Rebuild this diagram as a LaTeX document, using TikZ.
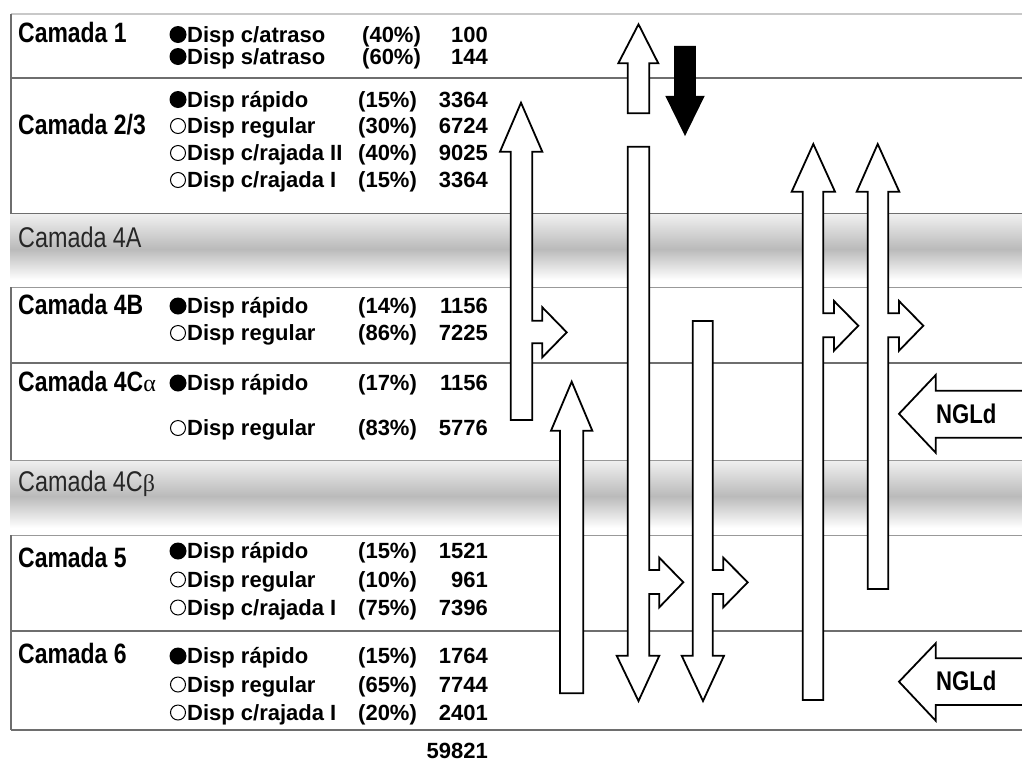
\documentclass[tikz,border=0pt]{standalone}
\usepackage{fontspec}
\setmainfont{Liberation Sans}
\newfontfamily\narrowfont[FakeStretch=0.82]{Liberation Sans}
\newfontfamily\greekfont{Liberation Serif}
\definecolor{linegray}{RGB}{110,110,110}
\definecolor{lightline}{RGB}{200,200,200}
\definecolor{bandlight}{RGB}{240,240,240}
\definecolor{banddark}{RGB}{186,186,186}
\begin{document}
\begin{tikzpicture}[x=1pt,y=-1pt,
  rowline/.style={draw=linegray,line width=1.3pt},
  camlabel/.style={anchor=base west,inner sep=0pt,font=\narrowfont\bfseries\fontsize{28}{28}\selectfont},
  bandlabel/.style={anchor=base west,inner sep=0pt,font=\narrowfont\fontsize{28.5}{28}\selectfont,text=black!85},
  itemtxt/.style={anchor=base west,inner sep=0pt,font=\bfseries\fontsize{22}{22}\selectfont},
  numtxt/.style={anchor=base east,inner sep=0pt,font=\bfseries\fontsize{22}{22}\selectfont},
  fbullet/.style={circle,fill=black,inner sep=0pt,minimum size=17pt},
  obullet/.style={circle,draw=black,fill=white,line width=1pt,inner sep=0pt,minimum size=15pt},
  bigarrow/.style={draw=black,fill=white,line width=1.8pt,line join=miter},
  ngl/.style={anchor=base west,inner sep=0pt,font=\narrowfont\bfseries\fontsize{27}{27}\selectfont}]
\useasboundingbox (0,0) rectangle (1022,761);
\fill[white] (0,0) rectangle (1022,761);

% gray bands
\shade[top color=bandlight,bottom color=banddark] (10,214) rectangle (1022,249);
\shade[top color=banddark,bottom color=white] (10,249) rectangle (1022,280);
\fill[white] (10,280) rectangle (1022,287);
\shade[top color=bandlight,bottom color=banddark] (10,460) rectangle (1022,496);
\shade[top color=banddark,bottom color=white] (10,496) rectangle (1022,528);
\fill[white] (10,528) rectangle (1022,535);

% row lines
\draw[draw=lightline,line width=1.3pt] (11,14) -- (1022,14);
\draw[rowline] (11,78) -- (1022,78);
\draw[rowline] (11,213.5) -- (1022,213.5);
\draw[draw=linegray!70,line width=1pt] (10,287) -- (1022,287);
\draw[rowline] (11,363) -- (1022,363);
\draw[draw=linegray!70,line width=1pt] (10,460) -- (1022,460);
\draw[draw=linegray!70,line width=1pt] (10,535) -- (1022,535);
\draw[rowline] (11,631) -- (1022,631);
\draw[rowline] (11,730) -- (1022,730);
\draw[rowline] (11,14) -- (11,213.5);
\draw[rowline] (11,287) -- (11,460);
\draw[rowline] (11,535) -- (11,730);

% layer labels
\node[camlabel] (c1) at (18,42.5) {Camada 1};
\node[camlabel] (c23) at (18,134) {Camada 2/3};
\node[bandlabel] (c4a) at (18,247.5) {Camada 4A};
\node[camlabel] (c4b) at (18,314) {Camada 4B};
\node[camlabel] (c4ca) at (18,391) {Camada 4C{\greekfont\mdseries\fontsize{24}{24}\selectfont α}};
\node[bandlabel] (c4cb) at (18,491) {Camada 4C{\greekfont\fontsize{24}{24}\selectfont β}};
\node[camlabel] (c5) at (18,567) {Camada 5};
\node[camlabel] (c6) at (18,663) {Camada 6};

% items: bullet, text, percent, number
\newcommand{\itemrow}[7]{%
  \node[#2] (#1b) at (178,#3-7.5) {};
  \node[itemtxt] (#1t) at (187,#3) {#4};
  \node[itemtxt] (#1p) at (#5,#3) {#6};
  \node[numtxt] (#1n) at (488,#3) {#7};}
\itemrow{a1}{fbullet}{42}{Disp c/atraso}{362}{(40\%)}{100}
\itemrow{a2}{fbullet}{64}{Disp s/atraso}{362}{(60\%)}{144}
\itemrow{b1}{fbullet}{107}{Disp rápido}{358}{(15\%)}{3364}
\itemrow{b2}{obullet}{133.5}{Disp regular}{358}{(30\%)}{6724}
\itemrow{b3}{obullet}{160.5}{Disp c/rajada II}{358}{(40\%)}{9025}
\itemrow{b4}{obullet}{187.5}{Disp c/rajada I}{358}{(15\%)}{3364}
\itemrow{d1}{fbullet}{313.5}{Disp rápido}{358}{(14\%)}{1156}
\itemrow{d2}{obullet}{340.5}{Disp regular}{358}{(86\%)}{7225}
\itemrow{e1}{fbullet}{390.5}{Disp rápido}{358}{(17\%)}{1156}
\itemrow{e2}{obullet}{435.5}{Disp regular}{358}{(83\%)}{5776}
\itemrow{f1}{fbullet}{558.5}{Disp rápido}{358}{(15\%)}{1521}
\itemrow{f2}{obullet}{587}{Disp regular}{358}{(10\%)}{961}
\itemrow{f3}{obullet}{615}{Disp c/rajada I}{358}{(75\%)}{7396}
\itemrow{g1}{fbullet}{663.5}{Disp rápido}{358}{(15\%)}{1764}
\itemrow{g2}{obullet}{692}{Disp regular}{358}{(65\%)}{7744}
\itemrow{g3}{obullet}{720}{Disp c/rajada I}{358}{(20\%)}{2401}
\node[numtxt] (total) at (488,758) {59821};

% arrows
% A: up with right branch
\draw[bigarrow] (510.7,420) -- (510.7,151.7) -- (500,151.7) -- (521,102.7) -- (542.3,151.7) -- (532.3,151.7)
  -- (532.3,320.7) -- (542.3,320.7) -- (542.3,307.3) -- (566.7,332.3) -- (542.3,357.3) -- (542.3,343.3)
  -- (532.3,343.3) -- (532.3,420) -- cycle;
% B: short up
\draw[bigarrow] (627.7,113.3) -- (627.7,63.3) -- (618.3,63.3) -- (638.5,24.3) -- (658.3,63.3) -- (649.3,63.3) -- (649.3,113.3) -- cycle;
% C: black down
\draw[bigarrow,fill=black] (675,46.7) -- (695,46.7) -- (695,96.7) -- (703.3,96.7) -- (685,134) -- (666.7,96.7) -- (675,96.7) -- cycle;
% D: long down with branch
\draw[bigarrow] (627.7,146.7) -- (649.3,146.7) -- (649.3,570) -- (659.3,570) -- (659.3,557.7) -- (683.3,582.3)
  -- (659.3,607.3) -- (659.3,594) -- (649.3,594) -- (649.3,655.7) -- (659.3,655.7) -- (638.5,701)
  -- (616.7,655.7) -- (627.7,655.7) -- cycle;
% E: down with branch
\draw[bigarrow] (692.7,321) -- (712.7,321) -- (712.7,570) -- (723.3,570) -- (723.3,557.7) -- (747.7,582.3)
  -- (723.3,607.3) -- (723.3,594) -- (712.7,594) -- (712.7,655.7) -- (724,655.7) -- (703,701)
  -- (681.7,655.7) -- (692.7,655.7) -- cycle;
% F: up from layer 6
\draw[bigarrow] (560,693.3) -- (560,430.7) -- (551,430.7) -- (571.7,381.7) -- (592.3,430.7) -- (583.3,430.7) -- (583.3,693.3) -- cycle;
% G: long up with branch
\draw[bigarrow] (802.7,700) -- (802.7,191.7) -- (791.7,191.7) -- (813.3,144) -- (835,191.7) -- (823.3,191.7)
  -- (823.3,313.3) -- (834,313.3) -- (834,301) -- (858.3,325.7) -- (834,350.7) -- (834,337.3)
  -- (823.3,337.3) -- (823.3,700) -- cycle;
% H: up with branch
\draw[bigarrow] (867.7,589) -- (867.7,191.7) -- (856.7,191.7) -- (877.7,144) -- (899.3,191.7) -- (888.3,191.7)
  -- (888.3,313.3) -- (899,313.3) -- (899,301) -- (923.3,325.7) -- (899,350.7) -- (899,337.3)
  -- (888.3,337.3) -- (888.3,589) -- cycle;
% NGLd arrows
\fill[white] (1022,390.7) -- (935.7,390.7) -- (935.7,375) -- (899,413.8) -- (935.7,452.7) -- (935.7,437.7) -- (1022,437.7) -- cycle;
\draw[line width=1.8pt,line join=miter] (1022,390.7) -- (935.7,390.7) -- (935.7,375) -- (899,413.8) -- (935.7,452.7) -- (935.7,437.7) -- (1022,437.7);
\node[ngl] (ngl1) at (936,423.3) {NGLd};
\fill[white] (1022,658.3) -- (935.7,658.3) -- (935.7,643.3) -- (899,681.7) -- (935.7,720.7) -- (935.7,705) -- (1022,705) -- cycle;
\draw[line width=1.8pt,line join=miter] (1022,658.3) -- (935.7,658.3) -- (935.7,643.3) -- (899,681.7) -- (935.7,720.7) -- (935.7,705) -- (1022,705);
\node[ngl] (ngl2) at (936,690.5) {NGLd};
\end{tikzpicture}
\end{document}
